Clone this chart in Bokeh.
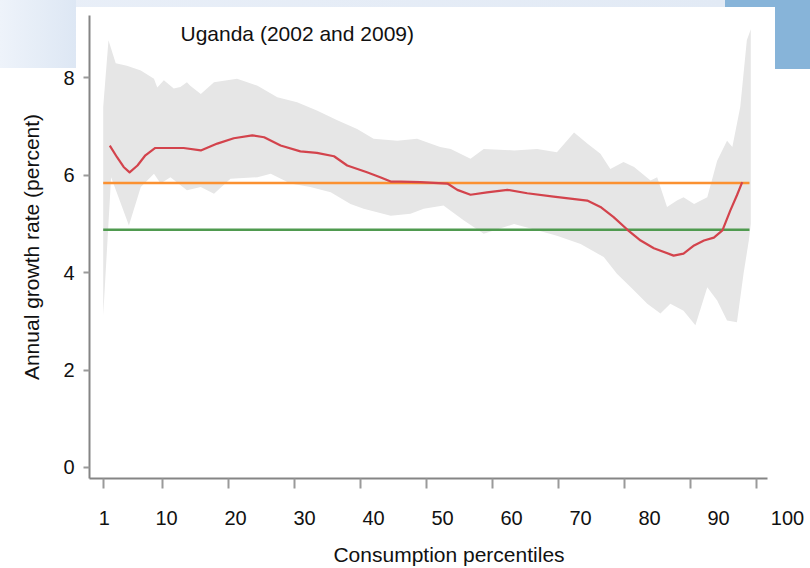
from bokeh.plotting import figure
from bokeh.models import Range1d, LinearAxis, FixedTicker, Label
from bokeh.embed import file_html
from bokeh.resources import INLINE

FONT = "'Liberation Sans', Arial, sans-serif"

# ---- data ----
title_text = "Uganda (2002 and 2009)"
x_ticks = [1, 10, 20, 30, 40, 50, 60, 70, 80, 90, 100]
y_ticks = [0, 2, 4, 6, 8]

# growth incidence curve (red)
gic_x = [2.0, 3.1, 4.1, 5.0, 6.2, 7.4, 8.9, 10.7, 13.2, 15.8, 18.3, 20.8, 23.6, 25.4, 27.9,
         30.9, 33.4, 36.0, 38.0, 41.0, 43.0, 44.6, 46.1, 49.1, 53.2, 54.7, 56.7, 59.2, 62.3,
         65.3, 69.3, 74.4, 76.4, 78.4, 80.5, 82.5, 84.5, 87.5, 89.0, 90.6, 92.1, 93.6, 94.9,
         96.1, 97.1, 97.9]
gic_y = [6.61, 6.37, 6.17, 6.06, 6.20, 6.41, 6.56, 6.56, 6.56, 6.51, 6.65, 6.76, 6.82, 6.78, 6.61,
         6.49, 6.46, 6.39, 6.20, 6.06, 5.96, 5.87, 5.87, 5.86, 5.83, 5.70, 5.60, 5.65, 5.70,
         5.63, 5.56, 5.48, 5.35, 5.14, 4.88, 4.66, 4.50, 4.35, 4.39, 4.56, 4.66, 4.72, 4.87,
         5.28, 5.59, 5.86]

# confidence band, upper edge
ci_hi_x = [1.0, 1.8, 2.9, 4.6, 6.7, 8.7, 9.2, 10.2, 11.7, 12.7, 13.7, 14.2, 15.8, 17.8, 21.3,
           24.4, 27.4, 30.4, 33.4, 36.5, 39.5, 42.0, 45.6, 48.6, 50.6, 52.1, 53.7, 56.7, 58.7,
           63.3, 66.8, 69.8, 72.4, 74.4, 76.4, 77.9, 79.9, 81.5, 84.0, 85.0, 86.5, 88.0, 89.0,
           90.6, 92.6, 94.1, 95.6, 96.4, 97.6, 98.6, 99.2]
ci_hi_y = [7.40, 8.77, 8.30, 8.25, 8.15, 7.98, 7.80, 7.95, 7.78, 7.81, 7.91, 7.84, 7.67, 7.91, 7.98,
           7.84, 7.60, 7.50, 7.33, 7.13, 6.95, 6.75, 6.71, 6.75, 6.65, 6.58, 6.54, 6.34, 6.54,
           6.51, 6.54, 6.47, 6.88, 6.65, 6.44, 6.13, 6.27, 6.17, 5.89, 5.96, 5.35, 5.48, 5.55,
           5.41, 5.55, 6.30, 6.71, 6.58, 7.40, 8.77, 9.00]
# confidence band, lower edge
ci_lo_x = [1.0, 2.2, 4.9, 6.7, 8.7, 9.7, 11.2, 13.7, 15.8, 17.8, 20.3, 24.4, 26.4, 29.4, 32.4,
           35.5, 38.5, 40.5, 44.6, 47.6, 49.6, 52.6, 55.7, 58.7, 63.3, 66.8, 69.8, 73.4, 76.9,
           78.9, 81.0, 83.5, 85.5, 87.0, 89.0, 90.8, 92.6, 94.1, 95.6, 97.1, 98.1, 98.9, 99.2]
ci_lo_y = [3.12, 5.96, 4.97, 5.76, 6.03, 5.83, 5.96, 5.69, 5.76, 5.62, 5.93, 5.96, 6.03, 5.83, 5.76,
           5.65, 5.41, 5.31, 5.17, 5.21, 5.31, 5.38, 5.07, 4.80, 5.00, 4.87, 4.76, 4.59, 4.32,
           3.98, 3.70, 3.36, 3.16, 3.36, 3.22, 2.92, 3.70, 3.43, 3.02, 2.98, 3.98, 4.66, 5.00]

# reference lines
line_x = [1, 99]
growth_mean = 5.84     # orange
growth_other = 4.88    # green

# ---- figure ----
p = figure(width=810, height=568, output_backend="svg", toolbar_location=None,
           x_range=Range1d(-1.077, 107.95), y_range=Range1d(-0.226, 9.28),
           min_border_left=89, min_border_right=2, min_border_top=15, min_border_bottom=90,
           x_axis_type=None)
p.extra_x_ranges = {"lab": Range1d(-1.159, 103.04)}
p.outline_line_color = None
p.xgrid.visible = False
p.ygrid.visible = False
p.background_fill_color = None
p.border_fill_color = None
# page decoration behind the (transparent) canvas: light-blue and blue blocks at the top
p.styles = {
    "background": (
        "linear-gradient(#87b4d9,#87b4d9) 775px 0px / 35px 69px no-repeat, "
        "linear-gradient(#87b4d9,#87b4d9) 725px 0px / 50px 7px no-repeat, "
        "linear-gradient(to right,#eef3fa,#dde7f4) 0px 0px / 76px 68px no-repeat, "
        "linear-gradient(to right,#e9eff8,#e2eaf5) 0px 0px / 725px 7px no-repeat, "
        "#ffffff"
    )
}

AXIS_COL = "#858585"

# tick axis (tick marks only)
xt = LinearAxis(ticker=FixedTicker(ticks=x_ticks), bounds=(-1.077, 101.68))
xt.axis_line_color = AXIS_COL
xt.axis_line_width = 2
xt.major_tick_line_color = "#9a9a9a"
xt.major_tick_line_width = 2
xt.major_tick_out = 10
xt.major_tick_in = 0
xt.minor_tick_line_color = None
xt.major_label_overrides = {t: "" for t in x_ticks}
xt.major_label_text_font_size = "1px"
xt.major_label_standoff = 0
p.add_layout(xt, "below")

# label axis (tick labels + title)
xl = LinearAxis(x_range_name="lab", ticker=FixedTicker(ticks=x_ticks))
xl.axis_line_color = None
xl.major_tick_line_color = None
xl.minor_tick_line_color = None
xl.major_tick_out = 0
xl.major_tick_in = 0
xl.major_label_standoff = 22
xl.major_label_text_font = FONT
xl.major_label_text_font_size = "20px"
xl.major_label_text_color = "#111111"
xl.axis_label = "Consumption percentiles"
xl.axis_label_text_font = FONT
xl.axis_label_text_font_size = "21px"
xl.axis_label_text_font_style = "normal"
xl.axis_label_text_color = "#111111"
xl.axis_label_standoff = 15
p.add_layout(xl, "below")

ya = p.yaxis[0]
ya.ticker = FixedTicker(ticks=y_ticks)
ya.axis_line_color = AXIS_COL
ya.axis_line_width = 2
ya.major_tick_line_color = "#9a9a9a"
ya.major_tick_line_width = 2
ya.major_tick_out = 6
ya.major_tick_in = 0
ya.minor_tick_line_color = None
ya.major_label_standoff = 9
ya.major_label_text_font = FONT
ya.major_label_text_font_size = "20px"
ya.major_label_text_color = "#111111"
ya.axis_label = "Annual growth rate (percent)"
ya.axis_label_text_font = FONT
ya.axis_label_text_font_size = "21px"
ya.axis_label_text_font_style = "normal"
ya.axis_label_text_color = "#111111"
ya.axis_label_standoff = 17

# band
p.patch(ci_hi_x + ci_lo_x[::-1], ci_hi_y + ci_lo_y[::-1],
        fill_color="#e6e6e6", line_color=None)
# reference lines
p.line(line_x, [growth_mean] * len(line_x), line_color="#fb9131", line_width=2.5)
p.line(line_x, [growth_other] * len(line_x), line_color="#4f9a4f", line_width=2.5)
# growth incidence curve
p.line(gic_x, gic_y, line_color="#d3434c", line_width=2.2, line_join="round")

# title inside plot
p.add_layout(Label(x=12.72, y=8.91, text=title_text, text_font=FONT,
                   text_font_size="21px", text_baseline="middle", text_align="left",
                   text_color="#111111"))

open("out.html", "w").write(file_html(p, INLINE))
